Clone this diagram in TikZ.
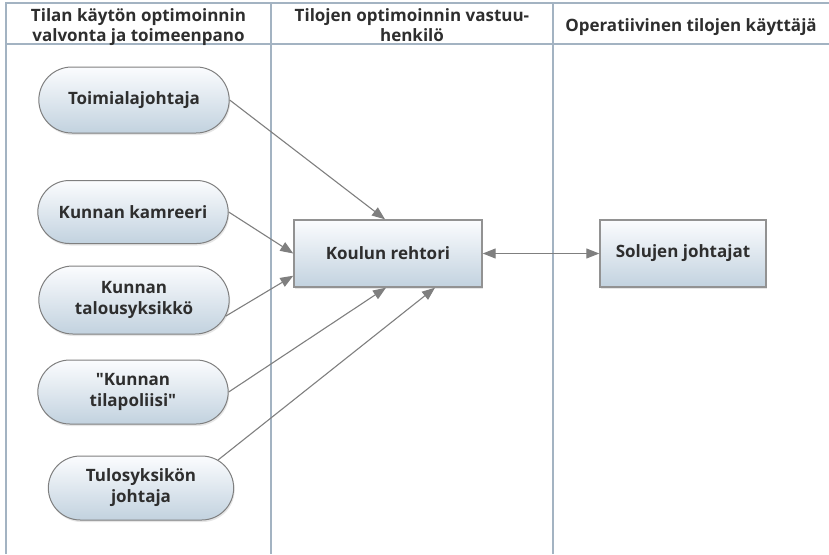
\documentclass[tikz,border=0pt]{standalone}
\usepackage{fontspec}
\setmainfont{Open Sans}
\newfontfamily\plainquote{Open Sans}[Ligatures=TeXOff]
\usetikzlibrary{shapes.misc,arrows.meta,shadows}
\definecolor{laneline}{HTML}{A3B3C2}
\definecolor{boxtop}{HTML}{FBFCFE}
\definecolor{boxbottom}{HTML}{C2D2DF}
\definecolor{edgegray}{HTML}{7F7F7F}
\definecolor{txt}{HTML}{2E2E2E}
\newcommand{\dq}{{\plainquote\char34}}
\tikzset{
  lane/.style={draw=laneline, line width=1.3pt},
  headtext/.style={font=\fontsize{17}{20}\selectfont\bfseries, text=txt, align=center},
  actor/.style={rounded rectangle, draw=edgegray, line width=1pt,
    top color=boxtop, bottom color=boxbottom, minimum width=197pt, minimum height=66pt,
    font=\fontsize{17}{21}\selectfont\bfseries, text=txt, align=center,
    drop shadow={opacity=0.2, shadow xshift=1pt, shadow yshift=-2pt}},
  rolebox/.style={rectangle, draw=edgegray!85, line width=1.4pt,
    top color=boxtop, bottom color=boxbottom, minimum height=67pt,
    font=\fontsize{17}{21}\selectfont\bfseries, text=txt, align=center,
    drop shadow={opacity=0.2, shadow xshift=1pt, shadow yshift=-2pt}},
  link/.style={draw=edgegray, line width=1.1pt, -{Triangle[length=13pt,width=10pt]}},
  duallink/.style={draw=edgegray, line width=1.1pt, {Triangle[length=13pt,width=10pt]}-{Triangle[length=13pt,width=10pt]}}
}
\begin{document}
\begin{tikzpicture}[x=1pt,y=-1pt]
\useasboundingbox (0,0) rectangle (829,554);
% swimlane frame
\draw[lane] (829,3) -- (6,3) -- (6,554);
\draw[lane] (6,44) -- (829,44);
\draw[lane] (271,3) -- (271,554);
\draw[lane] (553,3) -- (553,554);
% lane headings (two-line headings sit on the baseline of their last line)
\node[headtext, anchor=base] (h1) at (138.5,41) {Tilan käytön optimoinnin\\valvonta ja toimeenpano};
\node[headtext, anchor=base] (h2) at (412,41) {Tilojen optimoinnin vastuu-\\henkilö};
\node[headtext] (h3) at (691,27) {Operatiivinen tilojen käyttäjä};
% actors
\node[actor] (toim) at (134,100) {Toimialajohtaja};
\node[actor, minimum height=63pt] (kamr) at (133,212) {Kunnan kamreeri};
\node[actor, minimum height=68pt] (talo) at (134,300) {Kunnan\\talousyksikkö};
\node[actor, minimum height=64pt] (poli) at (133,392) {\dq Kunnan\\tilapoliisi\dq};
\node[actor, minimum width=192pt, minimum height=64pt] (tulo) at (141,488) {Tulosyksikön\\johtaja};
% roles
\node[rolebox, minimum width=188pt] (reh) at (388,253.5) {Koulun rehtori};
\node[rolebox, minimum width=166pt] (sol) at (683,253.5) {Solujen johtajat};
% connectors (canvas shifts: positive yshift is upwards)
\draw[link] (toim.east) -- ([xshift=-3pt]reh.north);
\draw[link] (kamr.east) -- (reh.west);
\draw[link] (talo.-10) -- ([yshift=12pt]reh.south west);
\draw[link] (poli.east) -- ([xshift=-2pt]reh.south);
\draw[link] (tulo.20) -- ([xshift=47pt]reh.south);
\draw[duallink] (reh.east) -- (sol.west);
\end{tikzpicture}
\end{document}
